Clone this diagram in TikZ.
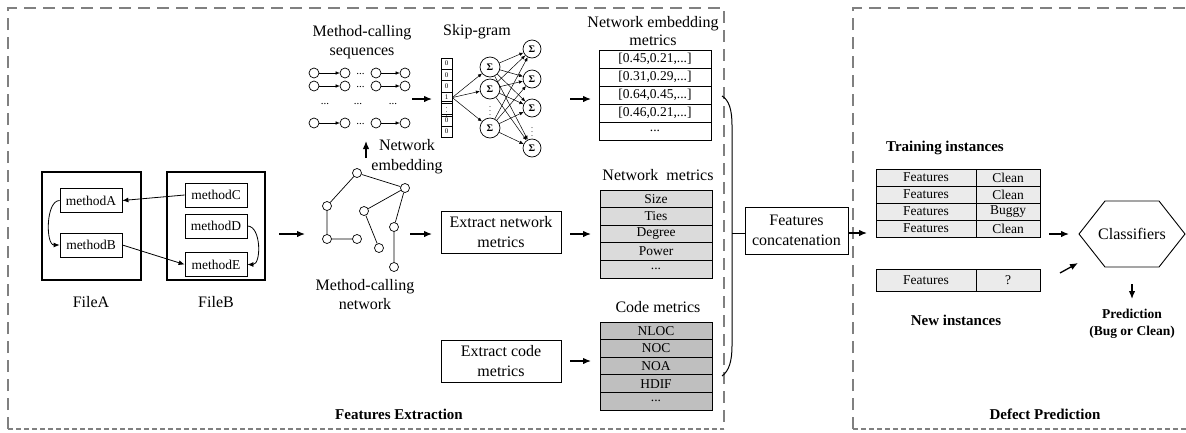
\documentclass[tikz,border=0pt]{standalone}
\usepackage{fontspec}
\setmainfont{Liberation Serif}
\usetikzlibrary{arrows.meta,calc}
\newcommand{\tdots}{...}

\begin{document}
\begin{tikzpicture}[x=1pt,y=-1pt,
  txt/.style={font=\fontsize{16}{19.5}\selectfont, align=center, inner sep=0pt},
  btxt/.style={font=\bfseries\fontsize{15}{17}\selectfont, align=center, inner sep=0pt},
  mbox/.style={draw, line width=0.8pt, minimum width=62pt, minimum height=24pt, font=\fontsize{13.5}{14}\selectfont, inner sep=0pt},
  filebox/.style={draw, line width=1.3pt, inner sep=0pt},
  procbox/.style={draw, line width=0.8pt, align=center, font=\fontsize{16}{19.5}\selectfont, inner sep=0pt},
  cell/.style={draw, line width=0.8pt, inner sep=0pt, font=\fontsize{13.5}{14}\selectfont},
  seqdot/.style={circle, draw, line width=0.7pt, minimum size=10pt, inner sep=0pt},
  gnode/.style={circle, draw, line width=0.7pt, minimum size=9pt, inner sep=0pt},
  hid/.style={circle, draw, line width=0.7pt, minimum size=20pt, inner sep=0pt, font=\bfseries\fontsize{10}{10}\selectfont},
  outn/.style={circle, draw, line width=0.7pt, minimum size=18pt, inner sep=0pt, font=\bfseries\fontsize{10}{10}\selectfont},
  vcell/.style={draw, line width=0.6pt, minimum width=11pt, minimum height=11.3pt, inner sep=0pt, font=\fontsize{7}{7}\selectfont},
  bigarr/.style={-{Latex[length=8pt,width=6.5pt]}, line width=1.3pt},
  arr/.style={-{Latex[length=6pt,width=5pt]}, line width=0.8pt},
  tinyarr/.style={-{Latex[length=4pt,width=3.5pt]}, line width=0.5pt},
  dashbox/.style={draw=black!50, line width=1.2pt, dash pattern=on 12pt off 7pt},
  dashbottom/.style={draw=black!50, line width=1.2pt, dash pattern=on 5pt off 3pt}
]
\useasboundingbox (0,0) rectangle (1186,432);

% ---------- stage frames ----------
\draw[dashbox] (8,429) -- (8,8) -- (724,8) -- (724,429);
\draw[dashbottom] (8,429) -- (724,429);
\draw[dashbox] (853,429) -- (853,8) -- (1186,8);
\draw[dashbottom] (853,429) -- (1186,429);

\node[btxt] (capA) at (399,414) {Features Extraction};
\node[btxt] (capB) at (1045,414) {Defect Prediction};

% ---------- source files ----------
\node[filebox, minimum width=99pt, minimum height=108pt] (fileA) at (91.5,226) {};
\node[filebox, minimum width=98pt, minimum height=108pt] (fileB) at (216,226) {};
\node[mbox] (mA) at (91,200.5) {methodA};
\node[mbox] (mB) at (91,245) {methodB};
\node[mbox] (mC) at (216,195) {methodC};
\node[mbox] (mD) at (216,226) {methodD};
\node[mbox] (mE) at (216,264.5) {methodE};
\node[txt] (lA) at (91,302) {FileA};
\node[txt] (lB) at (216,302) {FileB};

\draw[arr] (mC.west) -- (mA.east);
\draw[arr] (mB.east) -- (mE.west);
\draw[arr] (mA.west) .. controls +(-14,0) and +(-14,0) .. (mB.west);
\draw[arr] (mD.east) .. controls +(14,0) and +(14,0) .. (mE.east);

\coordinate (f2s) at (279,234);
\coordinate (f2e) at (305,234);
\draw[bigarr] (f2s) -- (f2e);

% ---------- method-calling network ----------
\node[gnode] (n1) at (357,173) {};
\node[gnode] (n2) at (405,188) {};
\node[gnode] (n3) at (327,206) {};
\node[gnode] (n4) at (364,211) {};
\node[gnode] (n5) at (394,227) {};
\node[gnode] (n6) at (327,239) {};
\node[gnode] (n7) at (357,239) {};
\node[gnode] (n8) at (379,248) {};
\node[gnode] (n9) at (394,267) {};
\draw[line width=0.7pt] (n1) -- (n2) (n1) -- (n3) (n3) -- (n6) (n6) -- (n7)
  (n4) -- (n2) (n4) -- (n8) (n2) -- (n5) (n5) -- (n9);
\node[txt] (netlbl) at (365,294.5) {Method-calling\\network};

% network embedding arrow
\coordinate (eu1) at (366,158);
\coordinate (eu2) at (366,141);
\draw[bigarr] (eu1) -- (eu2);
\node[txt] (emblbl) at (407,156.5) {Network\\embedding};

% ---------- method-calling sequences ----------
\node[txt] (seqlbl) at (362,42) {Method-calling\\sequences};
\foreach \r/\yy in {1/73, 2/86, 4/123} {
  \node[seqdot] (s\r a) at (314,\yy) {};
  \node[seqdot] (s\r b) at (345,\yy) {};
  \node[seqdot] (s\r c) at (376,\yy) {};
  \node[seqdot] (s\r d) at (405,\yy) {};
  \draw[tinyarr] (s\r a) -- (s\r b);
  \draw[tinyarr] (s\r c) -- (s\r d);
  \node[font=\fontsize{11}{11}\selectfont, inner sep=0pt] (s\r e) at (360.5,{\yy+1}) {\tdots};
}
\foreach \xx [count=\k] in {325,358,393}
  \node[font=\fontsize{11}{11}\selectfont, inner sep=0pt] (sd\k) at (\xx,104) {\tdots};

\coordinate (sq1) at (412,99);
\coordinate (sq2) at (432,99);
\draw[bigarr] (sq1) -- (sq2);

% ---------- skip-gram ----------
\node[txt] (sglbl) at (477,32) {Skip-gram};
\foreach \t [count=\i] in {0,0,0,1,{$\vdots$},0,0}
  \node[vcell] (v\i) at (446.5,{58+5.65+(\i-1)*11.3}) {\t};

\node[hid] (h1) at (490,67) {Σ};
\node[hid] (h2) at (490,89) {Σ};
\node[font=\fontsize{8}{8}\selectfont, inner sep=0pt] (hd) at (490,108) {$\vdots$};
\node[hid] (h3) at (490,128) {Σ};
\node[outn] (o1) at (532,49) {Σ};
\node[outn] (o2) at (532,79) {Σ};
\node[outn] (o3) at (532,108) {Σ};
\node[font=\fontsize{8}{8}\selectfont, inner sep=0pt] (od) at (532,129) {$\vdots$};
\node[outn] (o4) at (532,148) {Σ};

\foreach \h in {h1,h2,h3}
  \draw[tinyarr] (v4.east) -- (\h);
\foreach \h in {h1,h2,h3}
  \foreach \o in {o1,o2,o3,o4}
    \draw[tinyarr] (\h) -- (\o);

\coordinate (sk1) at (570,99);
\coordinate (sk2) at (591,99);
\draw[bigarr] (sk1) -- (sk2);

% ---------- network embedding metrics ----------
\node[txt, font=\fontsize{16}{17.5}\selectfont] (nemlbl) at (653,31) {Network embedding\\metrics};
\foreach \t [count=\i] in {{[0.45,0.21,\tdots]},{[0.31,0.29,\tdots]},{[0.64,0.45,\tdots]},{[0.46,0.21,\tdots]},{\tdots}}
  \node[cell, fill=white, minimum width=112pt, minimum height=18pt] (emb\i) at (655,{41+\i*18}) {\t};

% ---------- network metrics ----------
\node[procbox, minimum width=120pt, minimum height=42pt] (xnet) at (501,232) {Extract network\\metrics};
\coordinate (gx1) at (410,234);
\coordinate (gx2) at (432,234);
\draw[bigarr] (gx1) -- (gx2);
\coordinate (xn1) at (570,234);
\coordinate (xn2) at (591,234);
\draw[bigarr] (xn1) -- (xn2);

\node[txt] (nmlbl) at (658,175) {Network~~metrics};
\foreach \t [count=\i] in {Size,Ties,Degree,Power,\tdots}
  \node[cell, fill=black!14, minimum width=112pt, minimum height=17.6pt] (nm\i) at (656,{181.2+\i*17.6}) {\t};

% ---------- code metrics ----------
\node[procbox, minimum width=120pt, minimum height=42pt] (xcode) at (501,361) {Extract code\\metrics};
\coordinate (xc1) at (570,361);
\coordinate (xc2) at (591,361);
\draw[bigarr] (xc1) -- (xc2);

\node[txt] (cmlbl) at (658,307) {Code metrics};
\foreach \t [count=\i] in {NLOC,NOC,NOA,HDIF,\tdots}
  \node[cell, fill=black!25, minimum width=112pt, minimum height=17.6pt] (cm\i) at (656,{313.2+\i*17.6}) {\t};

% ---------- concatenation ----------
\node[procbox, minimum width=103pt, minimum height=47pt] (cat) at (796.5,230.5) {Features\\concatenation};
\draw[line width=1pt] (722,96) .. controls (729,100) and (732,110) .. (732,125)
  -- (732,346) .. controls (732,361) and (729,371) .. (722,376);
\coordinate (bm) at (732,233);
\draw[line width=0.8pt] (bm) -- (cat.west |- bm);
\coordinate (ct2) at (867,233);
\draw[bigarr] (cat.east |- ct2) -- (ct2);

% ---------- training / new instances ----------
\node[btxt] (trlbl) at (945,148) {Training instances};
\foreach \t [count=\i] in {Clean,Clean,Buggy,Clean} {
  \node[cell, fill=black!8, minimum width=100pt, minimum height=17pt] (tf\i) at (926,{160.5+\i*17}) {Features};
  \node[cell, fill=black!8, minimum width=64pt, minimum height=17pt] (tl\i) at (1008,{160.5+\i*17}) {\t};
}
\node[cell, fill=black!8, minimum width=100pt, minimum height=22pt] (nf) at (926,280) {Features};
\node[cell, fill=black!8, minimum width=64pt, minimum height=22pt] (nl) at (1008,280) {?};
\node[btxt] (nwlbl) at (956,320) {New instances};

% ---------- classifier ----------
\node[txt] (cls) at (1132,234) {Classifiers};
\draw[line width=0.9pt] ($(cls)+(-53,0)$) -- ($(cls)+(-27,-33)$) -- ($(cls)+(27,-33)$)
  -- ($(cls)+(53,0)$) -- ($(cls)+(27,33)$) -- ($(cls)+(-27,33)$) -- cycle;
\coordinate (tc1) at (1049,234);
\coordinate (tc2) at (1069,234);
\draw[bigarr] (tc1) -- (tc2);
\coordinate (nc1) at (1060,273);
\coordinate (nc2) at (1078,263);
\draw[bigarr] (nc1) -- (nc2);
\coordinate (pc1) at (1132,284);
\coordinate (pc2) at (1132,299);
\draw[bigarr] (pc1) -- (pc2);
\node[font=\bfseries\fontsize{13.5}{17}\selectfont, align=center, inner sep=0pt] (pred) at (1132,323.5) {Prediction\\(Bug or Clean)};
\end{tikzpicture}
\end{document}
